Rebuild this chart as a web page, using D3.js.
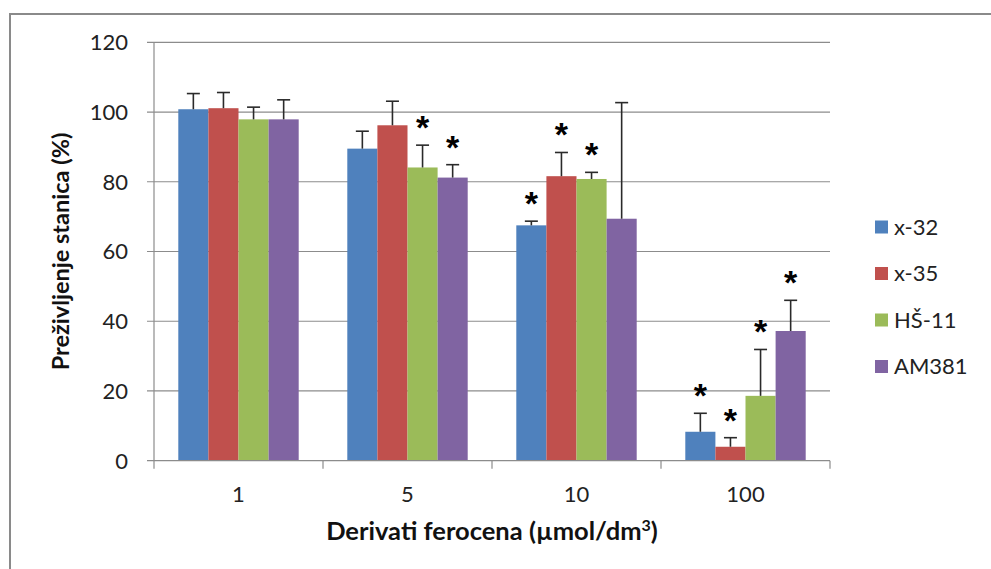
<!DOCTYPE html>
<html>
<head>
<meta charset="utf-8">
<script src="https://cdnjs.cloudflare.com/ajax/libs/d3/7.8.5/d3.min.js"></script>
<style>
  body { margin: 0; background: #fff; }
  svg { display: block; font-family: Lato, "Open Sans", sans-serif; }
</style>
</head>
<body>
<div id="chart"></div>
<script>
// data
const categories = ["1", "5", "10", "100"];
const seriesNames = ["x-32", "x-35", "HŠ-11", "AM381"];
const seriesColors = ["#4f81bd", "#c0504d", "#9bbb59", "#8064a2"];
const meanValues = [
    [100.8, 89.5, 67.5, 8.3],   // x-32
    [101.1, 96.2, 81.6, 4.0],   // x-35
    [97.9, 84.1, 80.8, 18.6],   // HŠ-11
    [97.9, 81.2, 69.4, 37.2]    // AM381
];
const errorValues = [
    [4.5, 5.0, 1.2, 5.3],
    [4.5, 6.9, 6.8, 2.6],
    [3.5, 6.4, 1.9, 13.3],
    [5.6, 3.7, 33.3, 8.8]
];
// significance markers (*) per series and category
const starFlags = [
    [false, false, true, true],
    [false, false, true, true],
    [false, true, true, true],
    [false, true, false, true]
];
const yTicks = [0, 20, 40, 60, 80, 100, 120];

function draw_chart() {
    const width = 991, height = 569;
    const left = 154, right = 830, top = 42.3, bottom = 460.7;

    const svg = d3.select("#chart").append("svg")
        .attr("width", width)
        .attr("height", height);

    // outer frame (cut by the page edge on the right and bottom)
    svg.append("rect")
        .attr("x", 10).attr("y", 14)
        .attr("width", 1200).attr("height", 800)
        .attr("fill", "none")
        .attr("stroke", "#8a8a8a")
        .attr("stroke-width", 2);

    const y = d3.scaleLinear().domain([0, 120]).range([bottom, top]);
    const x0 = d3.scaleBand().domain(categories).range([left, right]);
    const x1 = d3.scaleBand().domain(d3.range(seriesNames.length))
        .range([24.3, x0.bandwidth() - 24.3]);

    // grid lines + y ticks
    svg.append("g").selectAll("line")
        .data(yTicks.filter(d => d > 0))
        .join("line")
        .attr("x1", left - 7).attr("x2", right)
        .attr("y1", d => y(d)).attr("y2", d => y(d))
        .attr("stroke", "#8c8c8c").attr("stroke-width", 1.2);

    svg.append("g").selectAll("text")
        .data(yTicks)
        .join("text")
        .attr("x", 128)
        .attr("y", d => y(d))
        .attr("dy", "0.36em")
        .attr("text-anchor", "end")
        .attr("font-size", 22)
        .attr("fill", "#222")
        .text(d => d);

    // bars
    const rows = [];
    seriesNames.forEach((s, i) => {
        categories.forEach((c, j) => {
            rows.push({ s: i, c: c, v: meanValues[i][j], e: errorValues[i][j], star: starFlags[i][j] });
        });
    });

    svg.append("g").selectAll("rect")
        .data(rows)
        .join("rect")
        .attr("x", d => x0(d.c) + x1(d.s))
        .attr("y", d => y(d.v))
        .attr("width", x1.bandwidth())
        .attr("height", d => bottom - y(d.v))
        .attr("fill", d => seriesColors[d.s]);

    // error bars (upper only)
    const eb = svg.append("g").attr("stroke", "#2a2a2a").attr("stroke-width", 1.6);
    rows.forEach(d => {
        const cx = x0(d.c) + x1(d.s) + x1.bandwidth() / 2;
        eb.append("line")
            .attr("x1", cx).attr("x2", cx)
            .attr("y1", y(d.v)).attr("y2", y(d.v + d.e));
        eb.append("line")
            .attr("x1", cx - 6.5).attr("x2", cx + 6.5)
            .attr("y1", y(d.v + d.e)).attr("y2", y(d.v + d.e));
    });

    // stars
    svg.append("g").selectAll("text")
        .data(rows.filter(d => d.star))
        .join("text")
        .attr("x", d => x0(d.c) + x1(d.s) + x1.bandwidth() / 2)
        .attr("y", d => y(d.v + d.e) - 21 + 15)
        .attr("text-anchor", "middle")
        .attr("font-family", "'Liberation Sans', Arial, sans-serif")
        .attr("font-weight", "bold")
        .attr("font-size", 34)
        .attr("fill", "#000")
        .text("*");

    // axes lines
    svg.append("line")
        .attr("x1", left).attr("x2", left)
        .attr("y1", top).attr("y2", bottom)
        .attr("stroke", "#8c8c8c").attr("stroke-width", 1.2);
    svg.append("line")
        .attr("x1", left - 7).attr("x2", right)
        .attr("y1", bottom).attr("y2", bottom)
        .attr("stroke", "#8c8c8c").attr("stroke-width", 1.2);

    // x ticks at category boundaries
    const bounds = categories.map(c => x0(c)).concat([right]);
    svg.append("g").selectAll("line")
        .data(bounds)
        .join("line")
        .attr("x1", d => d).attr("x2", d => d)
        .attr("y1", bottom).attr("y2", bottom + 8)
        .attr("stroke", "#8c8c8c").attr("stroke-width", 1.2);

    svg.append("g").selectAll("text")
        .data(categories)
        .join("text")
        .attr("x", d => x0(d) + x0.bandwidth() / 2)
        .attr("y", 494)
        .attr("dy", "0.36em")
        .attr("text-anchor", "middle")
        .attr("font-size", 22)
        .attr("fill", "#222")
        .text(d => d);

    // axis titles
    const xt = svg.append("text")
        .attr("x", (left + right) / 2)
        .attr("y", 531)
        .attr("dy", "0.36em")
        .attr("text-anchor", "middle")
        .attr("font-size", 25.5)
        .attr("font-weight", "bold")
        .attr("fill", "#111");
    xt.append("tspan").text("Derivati ferocena (µmol/dm");
    xt.append("tspan").attr("font-size", 16).attr("dy", "-0.55em").text("3");
    xt.append("tspan").attr("dy", "0.33em").text(")");

    svg.append("text")
        .attr("transform", `translate(61,${(top + bottom) / 2}) rotate(-90)`)
        .attr("dy", "0.36em")
        .attr("text-anchor", "middle")
        .attr("font-size", 23.5)
        .attr("font-weight", "bold")
        .attr("fill", "#111")
        .text("Preživljenje stanica (%)");

    // legend
    const lg = svg.append("g").selectAll("g")
        .data(seriesNames)
        .join("g")
        .attr("transform", (d, i) => `translate(875,${227 + i * 46.5})`);
    lg.append("rect")
        .attr("x", 0).attr("y", -6.5)
        .attr("width", 13).attr("height", 13)
        .attr("fill", (d, i) => seriesColors[i]);
    lg.append("text")
        .attr("x", 19).attr("y", 0)
        .attr("dy", "0.36em")
        .attr("font-size", 22)
        .attr("fill", "#222")
        .text(d => d);
}

draw_chart();
</script>
</body>
</html>
